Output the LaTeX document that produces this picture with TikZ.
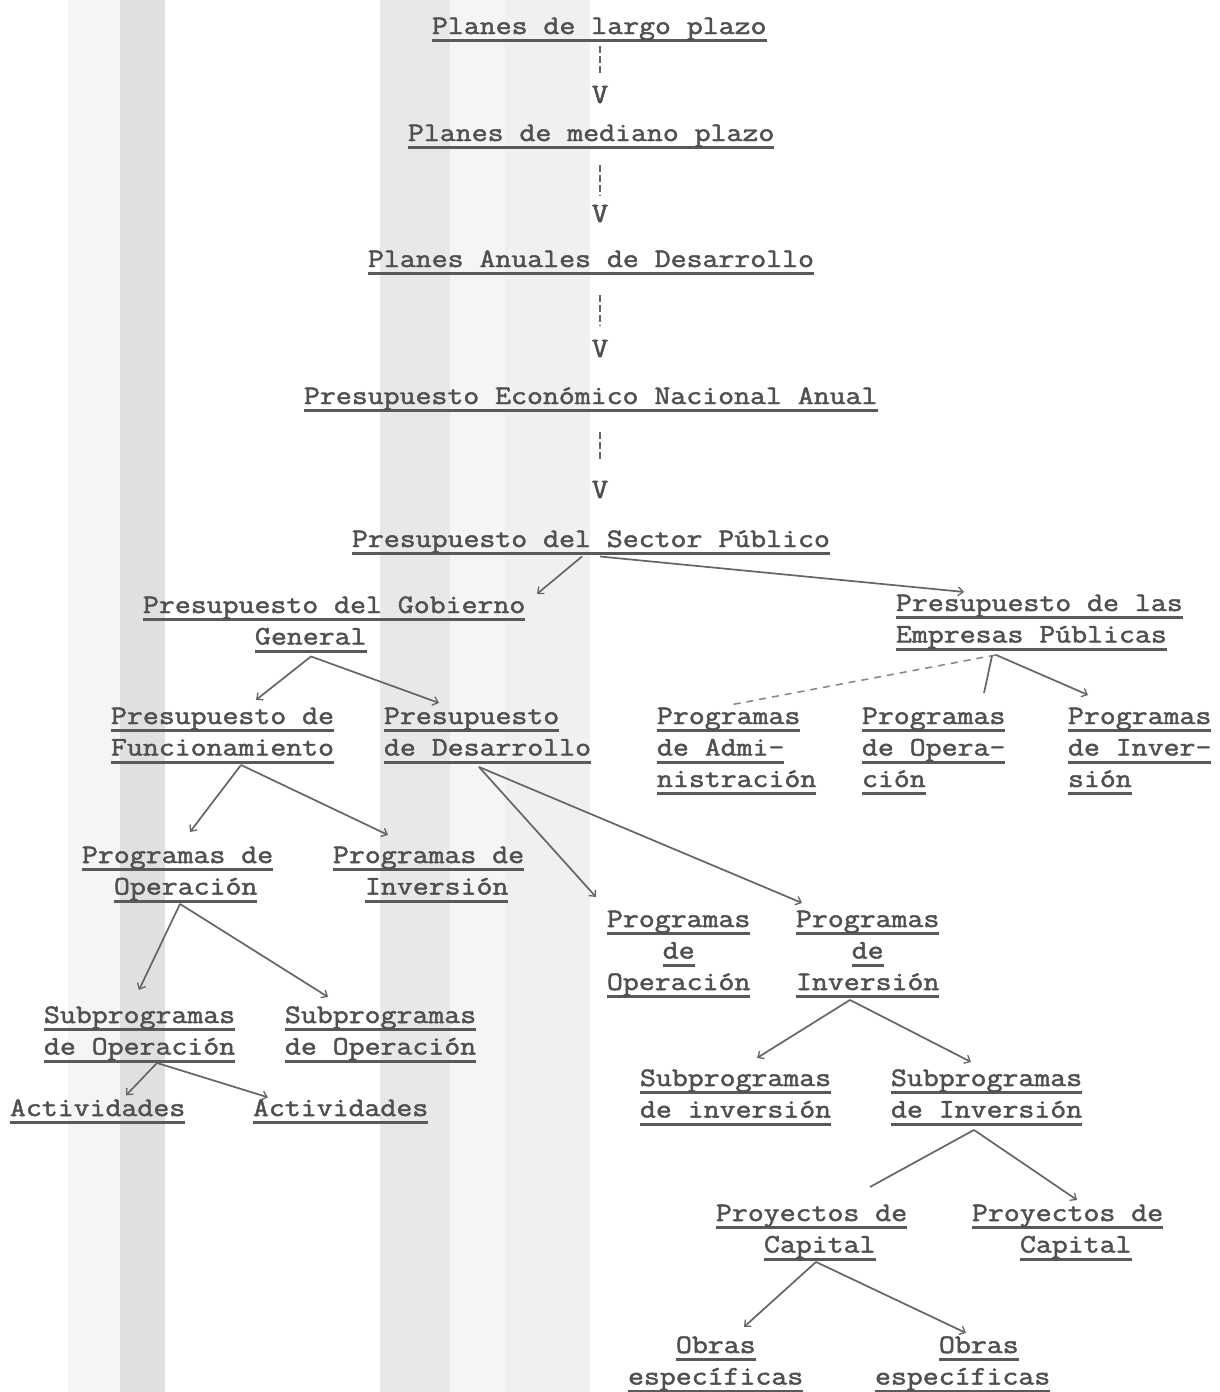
\documentclass[tikz,border=0pt]{standalone}
\usepackage{fontspec}
\newfontfamily\tw[FakeStretch=1.16,FakeBold=1.8]{Latin Modern Mono}
\usetikzlibrary{arrows.meta}
\definecolor{ink}{HTML}{505050}
\definecolor{ulc}{HTML}{5A5A5A}
\definecolor{lnc}{HTML}{656565}
\newlength\cw \setlength\cw{16pt}
\newsavebox\ulb
\newcommand\ulx[1]{\sbox\ulb{#1}\rlap{\color{ulc}\rule[-8pt]{\wd\ulb}{2.8pt}}\usebox\ulb}
\newcommand\ind[1]{\hspace*{#1\cw}}
\newcommand\blk[1]{\begin{tabular}[t]{@{}l@{}}#1\end{tabular}}
\newcommand\blkc[1]{\begin{tabular}[t]{@{}c@{}}#1\end{tabular}}
\begin{document}
\begin{tikzpicture}[x=1pt,y=-1pt,
  tw/.style={inner sep=0pt, outer sep=0pt, text=ink, anchor=base west,
    font=\tw\fontsize{26.667}{31.5}\selectfont},
  vv/.style={inner sep=0pt, outer sep=0pt, text=ink, anchor=base,
    font=\tw\fontsize{28}{31.5}\selectfont},
  dl/.style={draw=lnc, line width=2.6pt, dash pattern=on 7pt off 3pt},
  cn/.style={draw=lnc, line width=1.7pt, -{Straight Barb[length=5pt,width=9pt,line width=1.3pt]}},
  cnp/.style={draw=lnc, line width=1.7pt},
  cnd/.style={draw=lnc!80, line width=1.5pt, dash pattern=on 7pt off 6pt}]
\useasboundingbox (0,0) rectangle (1219,1392);
\fill[white] (0,0) rectangle (1219,1392);
% scan bands
\fill[black!4] (68,0) rectangle (120,1392);
\fill[black!12] (120,0) rectangle (165,1392);
\fill[black!9] (380,0) rectangle (450,1392);
\fill[black!4] (450,0) rectangle (505,1392);
\fill[black!6] (505,0) rectangle (590,1392);
% top chain
\node[tw] (L1) at (432,34) {\ulx{Planes de largo plazo}};
\node[vv] (V1) at (600,103) {V};
\node[tw] (L2) at (408,141) {\ulx{Planes de mediano plazo}};
\node[vv] (V2) at (600,222) {V};
\node[tw] (L3) at (368,267) {\ulx{Planes Anuales de Desarrollo}};
\node[vv] (V3) at (600,357) {V};
\node[tw] (L4) at (304,404) {\ulx{Presupuesto Económico Nacional Anual}};
\node[vv] (V4) at (600,498) {V};
\node[tw] (PSP) at (352,547) {\ulx{Presupuesto del Sector Público}};
% level 2
\node[tw] (PGG) at (143,613) {\blk{\ulx{Presupuesto del Gobierno}\\ \ind{7}\ulx{General}}};
\node[tw] (PEP) at (896,611) {\blk{\ulx{Presupuesto de las}\\ \ulx{Empresas Públicas}}};
% level 3
\node[tw] (PF) at (111,724) {\blk{\ulx{Presupuesto de}\\ \ulx{Funcionamiento}}};
\node[tw] (PD) at (384,724) {\blk{\ulx{Presupuesto}\\ \ulx{de Desarrollo}}};
\node[tw] (PA) at (657,724) {\blk{\ulx{Programas}\\ \ulx{de Admi-}\\ \ulx{nistración}}};
\node[tw] (PO) at (862,724) {\blk{\ulx{Programas}\\ \ulx{de Opera-}\\ \ulx{ción}}};
\node[tw] (PI) at (1068,724) {\blk{\ulx{Programas}\\ \ulx{de Inver-}\\ \ulx{sión}}};
% level 4
\node[tw] (POL) at (82,863) {\blk{\ulx{Programas de}\\ \ind{2}\ulx{Operación}}};
\node[tw] (PIL) at (333,863) {\blk{\ulx{Programas de}\\ \ind{2}\ulx{Inversión}}};
\node[tw] (POM) at (607,927) {\blkc{\ulx{Programas}\\ \ulx{de}\\ \ulx{Operación}}};
\node[tw] (PIM) at (796,927) {\blkc{\ulx{Programas}\\ \ulx{de}\\ \ulx{Inversión}}};
% level 5
\node[tw] (SOA) at (44,1023) {\blk{\ulx{Subprogramas}\\ \ulx{de Operación}}};
\node[tw] (SOB) at (285,1023) {\blk{\ulx{Subprogramas}\\ \ulx{de Operación}}};
\node[tw] (A1) at (10,1116) {\ulx{Actividades}};
\node[tw] (A2) at (253,1116) {\ulx{Actividades}};
\node[tw] (SIA) at (640,1086) {\blk{\ulx{Subprogramas}\\ \ulx{de inversión}}};
\node[tw] (SIB) at (891,1086) {\blk{\ulx{Subprogramas}\\ \ulx{de Inversión}}};
\node[tw] (PYA) at (716,1221) {\blk{\ulx{Proyectos de}\\ \ind{3}\ulx{Capital}}};
\node[tw] (PYB) at (972,1221) {\blk{\ulx{Proyectos de}\\ \ind{3}\ulx{Capital}}};
\node[tw] (OA) at (628,1353) {\blk{\ind{3}\ulx{Obras}\\ \ulx{específicas}}};
\node[tw] (OB) at (875,1353) {\blk{\ind{4}\ulx{Obras}\\ \ulx{específicas}}};
% vertical dashed arrows (the V letters are the heads)
\draw[dl, shorten <=4pt, shorten >=13pt] (L1.south -| V1.center) -- (V1.north);
\draw[dl, shorten <=16pt, shorten >=9pt] (L2.south -| V2.center) -- (V2.north);
\draw[dl, shorten <=20pt, shorten >=14pt] (L3.south -| V3.center) -- (V3.north);
\draw[dl, shorten <=20pt, shorten >=19pt] (L4.south -| V4.center) -- (V4.north);
% connectors
\draw[cn] ([shift={(230,1.5)}]PSP.south west) -- ([shift={(394,3)}]PGG.north west);
\draw[cn] ([shift={(248,1.5)}]PSP.south west) -- ([shift={(68,3)}]PEP.north west);
\draw[cn] ([shift={(168,2.5)}]PGG.south west) -- ([shift={(145,-2)}]PF.north west);
\draw[cn] ([shift={(168,2.5)}]PGG.south west) -- ([shift={(55,1)}]PD.north west);
\draw[cnd] ([shift={(100,3)}]PEP.south west) -- ([shift={(73,3)}]PA.north west);
\draw[cnp] ([shift={(96,4)}]PEP.south west) -- ([shift={(122,-9)}]PO.north west);
\draw[cn] ([shift={(100,3)}]PEP.south west) -- ([shift={(20,-7)}]PI.north west);
\draw[cn] ([shift={(130,0)}]PF.south west) -- ([shift={(108,-9)}]POL.north west);
\draw[cn] ([shift={(130,0)}]PF.south west) -- ([shift={(55,-6)}]PIL.north west);
\draw[cn] ([shift={(95,2)}]PD.south west) -- ([shift={(-11,-8)}]POM.north west);
\draw[cn] ([shift={(95,2)}]PD.south west) -- ([shift={(6,-2)}]PIM.north west);
\draw[cn] ([shift={(98,0)}]POL.south west) -- ([shift={(95,-11)}]SOA.north west);
\draw[cn] ([shift={(98,0)}]POL.south west) -- ([shift={(43,-4)}]SOB.north west);
\draw[cn] ([shift={(113,-1)}]SOA.south west) -- ([shift={(116,-4)}]A1.north west);
\draw[cn] ([shift={(113,-1)}]SOA.south west) -- ([shift={(15,-2)}]A2.north west);
\draw[cn] ([shift={(54,0.5)}]PIM.south west) -- ([shift={(117,-6)}]SIA.north west);
\draw[cn] ([shift={(54,0.5)}]PIM.south west) -- ([shift={(80,-2)}]SIB.north west);
\draw[cnp] ([shift={(83,3)}]SIB.south west) -- ([shift={(154,-12)}]PYA.north west);
\draw[cn] ([shift={(83,3)}]SIB.south west) -- ([shift={(105,1)}]PYB.north west);
\draw[cn] ([shift={(100,0)}]PYA.south west) -- ([shift={(116,-4)}]OA.north west);
\draw[cn] ([shift={(100,0)}]PYA.south west) -- ([shift={(91,2)}]OB.north west);
\end{tikzpicture}
\end{document}
